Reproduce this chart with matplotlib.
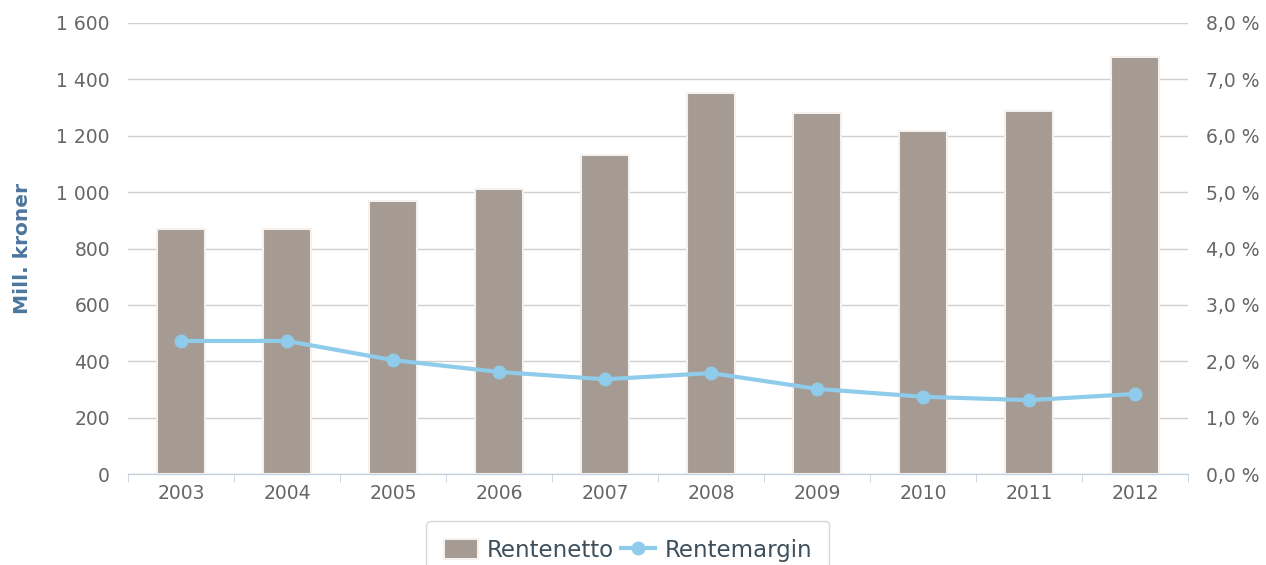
import matplotlib.pyplot as plt
from matplotlib.ticker import FuncFormatter

years = ["2003", "2004", "2005", "2006", "2007", "2008", "2009", "2010", "2011", "2012"]
rentenetto = [869, 869, 968, 1011, 1132, 1352, 1281, 1217, 1288, 1479]
rentemargin = [2.36, 2.36, 2.02, 1.81, 1.68, 1.79, 1.51, 1.37, 1.31, 1.42]

bar_color = "#a69b92"
line_color = "#8fcbea"
tick_color = "#666666"

fig = plt.figure(figsize=(12.66, 5.65), dpi=100)
ax = fig.add_axes([128 / 1266, 1 - 474 / 565, 1060 / 1266, 451 / 565])
ax2 = ax.twinx()

x = list(range(len(years)))
bars = ax.bar(x, rentenetto, width=0.45, color=bar_color, edgecolor="#f4f1ee",
              linewidth=1.5, zorder=3, label="Rentenetto")
ax.set_xlim(-0.5, len(years) - 0.5)
ax.set_ylim(0, 1600)
ax.set_yticks(range(0, 1601, 200))
ax.yaxis.set_major_formatter(FuncFormatter(lambda v, p: f"{int(v):,}".replace(",", " ")))
ax.grid(axis="y", color="#cfcfcf", linewidth=1, zorder=0)
ax.set_axisbelow(True)

ax2.set_ylim(0, 8)
ax2.set_yticks(range(0, 9))
ax2.yaxis.set_major_formatter(FuncFormatter(lambda v, p: f"{v:.1f}".replace(".", ",") + " %"))
line, = ax2.plot(x, rentemargin, color=line_color, linewidth=3, marker="o",
                 markersize=9, zorder=4, label="Rentemargin")

for a in (ax, ax2):
    for s in ["top", "left", "right"]:
        a.spines[s].set_visible(False)
    a.spines["bottom"].set_color("#c0d0e0")
    a.tick_params(axis="y", length=0, labelsize=13.5, labelcolor=tick_color, pad=13)

ax.set_xticks(x)
ax.set_xticklabels(years)
ax.tick_params(axis="x", length=0, labelsize=13.5, labelcolor=tick_color, pad=7)
ax.set_xticks([i + 0.5 for i in range(-1, len(years))], minor=True)
ax.tick_params(axis="x", which="minor", length=6, color="#c0d0e0", direction="out")

ax.set_ylabel("Mill. kroner", color="#4d759e", fontsize=14.5, fontweight="bold")
ax.yaxis.set_label_coords(-0.091, 0.5)

leg = fig.legend([bars, line], ["Rentenetto", "Rentemargin"], loc="lower center",
                 bbox_to_anchor=(0.496, -0.045), ncol=2, frameon=True, fontsize=16.5,
                 handlelength=1.5, handleheight=1.0, columnspacing=0.3, handletextpad=0.4,
                 borderpad=0.75, fancybox=True)
leg.get_frame().set_edgecolor("#cccccc")
leg.get_frame().set_linewidth(1)
for t in leg.get_texts():
    t.set_color("#3d4f5c")

fig.savefig("out.png", dpi=100)
